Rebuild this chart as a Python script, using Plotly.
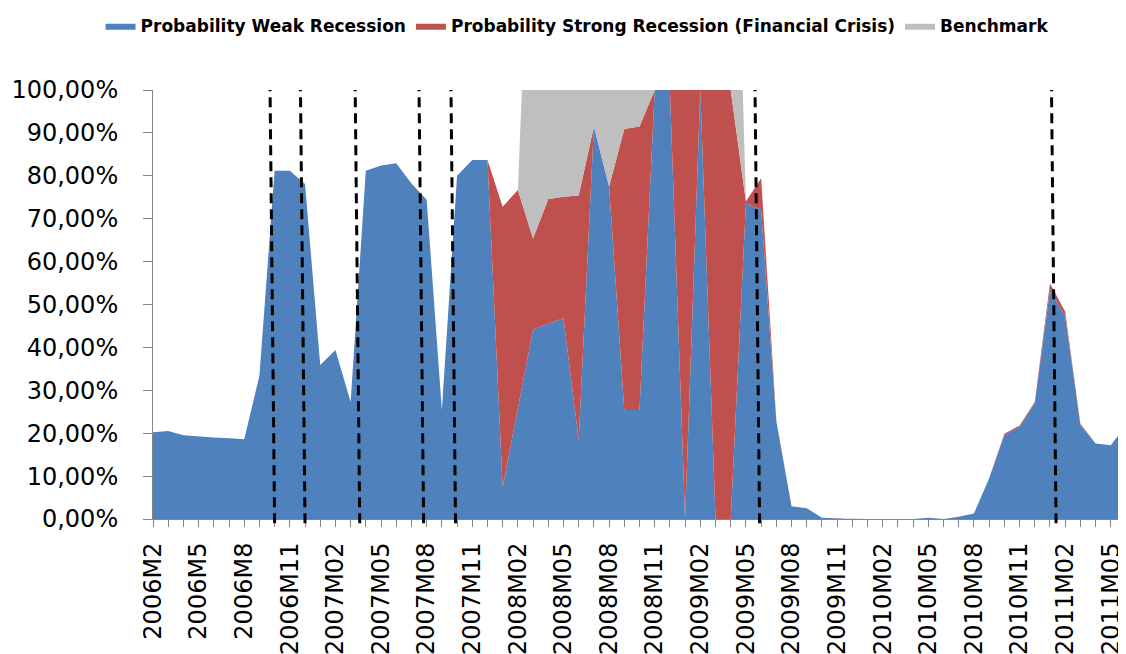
import plotly.graph_objects as go

# monthly categories 2006M2 .. 2011M06
months = ['2006M%d' % m for m in range(2, 13)]
for year in range(2007, 2012):
    for m in range(1, 13):
        months.append('%dM%02d' % (year, m))
months = months[:65]

# values in percent
weak = [20.2, 20.5, 19.5, 19.2, 19.0, 18.8, 18.6, 33.4, 81.2, 81.2,
        78.1, 35.9, 39.4, 27.3, 81.2, 82.4, 82.9, 78.2, 74.4, 25.4,
        80.0, 83.7, 83.7, 7.4, 26.0, 44.2, 45.5, 46.8, 18.4, 91.5,
        77.5, 25.4, 25.4, 100.0, 100.0, 0.0, 100.0, 0.0, 0.0, 73.6,
        72.0, 22.7, 3.0, 2.5, 0.3, 0.1, 0.0, 0.0, 0.0, 0.0,
        0.0, 0.3, 0.0, 0.5, 1.3, 9.5, 19.6, 21.5, 27.0, 53.4,
        47.2, 21.9, 17.6, 17.2, 21.9]

strong = [0.0, 0.0, 0.0, 0.0, 0.0, 0.0, 0.0, 0.0, 0.0, 0.0,
          0.0, 0.0, 0.0, 0.0, 0.0, 0.0, 0.0, 0.0, 0.0, 0.0,
          0.0, 0.0, 0.0, 65.4, 50.7, 21.2, 29.1, 28.3, 57.0, 0.0,
          0.0, 65.5, 66.1, 0.0, 0.0, 100.0, 0.0, 100.0, 100.0, 0.4,
          7.4, 0.2, 0.0, 0.0, 0.0, 0.0, 0.0, 0.0, 0.0, 0.0,
          0.0, 0.0, 0.0, 0.0, 0.0, 0.0, 0.3, 0.3, 0.3, 1.5,
          1.1, 0.3, 0.0, 0.0, 0.0]

benchmark = [0.0] * 25 + [100.0] * 14 + [0.0] * 26

# month positions of the hand drawn dashed event lines
event_months = [8.0, 10.0, 13.6, 17.8, 19.9, 39.9, 59.4]

idx = list(range(len(months)))
tick_text = [m if i % 3 == 0 else '' for i, m in enumerate(months)]

series = [('Probability Weak Recession', weak, '#4F81BD'),
          ('Probability Strong Recession (Financial Crisis)', strong, '#C0504D'),
          ('Benchmark', benchmark, '#BFBFBF')]

fig = go.Figure()
for name, vals, color in series:
    fig.add_trace(go.Scatter(x=idx, y=[v / 100 for v in vals], name=name,
                             mode='lines', stackgroup='one',
                             line=dict(width=0, color=color),
                             fillcolor=color))

for ev in event_months:
    fig.add_shape(type='line', xref='x', yref='paper',
                  x0=ev, x1=ev - 0.3, y0=-0.01, y1=1.0,
                  line=dict(color='black', width=3, dash='10px,6px'))

# page body has an 8px margin, so the figure is shifted by that amount
axis_grey = '#868686'
fig.update_layout(
    width=1118, height=646,
    margin=dict(l=145, r=0, t=82, b=135),
    plot_bgcolor='white', paper_bgcolor='white',
    separators=',.',
    font=dict(family='DejaVu Sans', color='black'),
    showlegend=True,
    legend=dict(orientation='h', xref='container', yref='container',
                x=0.509, xanchor='center', y=0.972, yanchor='middle',
                itemwidth=30, font=dict(size=17, weight='bold'), traceorder='normal'),
)
fig.update_xaxes(range=[0, 64], tickvals=idx, ticktext=tick_text, tickangle=-90,
                 ticks='outside', ticklen=7, tickcolor=axis_grey,
                 showline=True, linecolor=axis_grey, showgrid=False, zeroline=False,
                 tickfont=dict(size=24), ticklabelstandoff=6, automargin=False)
fig.update_yaxes(range=[0, 1], dtick=0.1, tickformat='.2%',
                 ticks='outside', ticklen=9, tickcolor=axis_grey,
                 showline=True, linecolor=axis_grey, showgrid=False, zeroline=False,
                 tickfont=dict(size=24), ticklabelstandoff=20, automargin=False)

fig.write_html('out.html')
